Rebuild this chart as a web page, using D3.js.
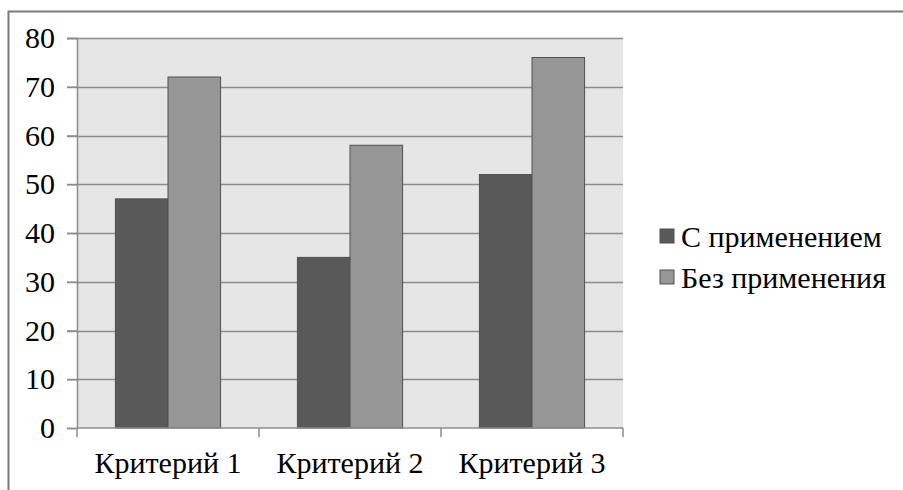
<!DOCTYPE html>
<html>
<head>
<meta charset="utf-8">
<script src="https://cdn.jsdelivr.net/npm/d3@7"></script>
<style>
  body { margin: 0; background: #fff; }
</style>
</head>
<body>
<div id="chart"></div>
<script>
// Data
const categories = ['Критерий 1', 'Критерий 2', 'Критерий 3'];
const seriesNames = ['С применением', 'Без применения'];
const withUse = [47, 35, 52];
const withoutUse = [72, 58, 76];
const yTicks = [0, 10, 20, 30, 40, 50, 60, 70, 80];
const colors = ['#595959', '#969696'];

// Dimensions
const width = 903;
const height = 490;
const plot = {left: 77, right: 623, top: 38, bottom: 428};
const font = 'Liberation Serif';
const fontSize = 30;

const svg = d3.select('#chart')
  .append('svg')
    .attr('width', width)
    .attr('height', height)

// Outer frame (top and left edges visible)
svg.append('path')
  .attr('d', `M8.5,${height} V11.5 H${width}`)
  .attr('fill', 'none')
  .attr('stroke', '#7a7a7a')
  .attr('stroke-width', 2)

// Scales
const scaleX = d3.scaleBand()
  .domain(categories)
  .range([plot.left, plot.right])
const scaleSeries = d3.scaleBand()
  .domain(seriesNames)
  .range([0, scaleX.bandwidth()])
  .paddingInner(0)
  .paddingOuter(0.73)
const scaleY = d3.scaleLinear()
  .domain([0, 80])
  .range([plot.bottom, plot.top])

// Plot background
svg.append('rect')
  .attr('x', plot.left)
  .attr('y', plot.top)
  .attr('width', plot.right - plot.left)
  .attr('height', plot.bottom - plot.top)
  .attr('fill', '#e6e6e6')

// Gridlines
svg.append('g')
  .selectAll('line')
  .data(yTicks.filter(d => d > 0))
  .join('line')
    .attr('x1', plot.left - 10)
    .attr('x2', plot.right)
    .attr('y1', d => Math.round(scaleY(d)) + 0.5)
    .attr('y2', d => Math.round(scaleY(d)) + 0.5)
    .attr('stroke', '#8c8c8c')
    .attr('stroke-width', 1.5)

// Bars
const rows = categories.map((c, i) => ({cat: c, values: [withUse[i], withoutUse[i]]}));
svg.append('g')
  .selectAll('g')
  .data(rows)
  .join('g')
    .attr('transform', d => `translate(${scaleX(d.cat)},0)`)
  .selectAll('rect')
  .data(d => d.values.map((v, j) => ({name: seriesNames[j], value: v, j})))
  .join('rect')
    .attr('x', d => scaleSeries(d.name))
    .attr('y', d => scaleY(d.value))
    .attr('width', scaleSeries.bandwidth())
    .attr('height', d => scaleY(0) - scaleY(d.value))
    .attr('fill', d => colors[d.j])
    .attr('stroke', '#505050')
    .attr('stroke-width', 1)

// Y axis
const axisY = d3.axisLeft(scaleY).tickValues(yTicks).tickSize(10).tickPadding(12);
svg.append('g')
  .attr('transform', `translate(${plot.left},0)`)
  .call(axisY)
  .call(g => g.select('.domain').attr('stroke', '#8c8c8c').attr('stroke-width', 1.5))
  .call(g => g.selectAll('.tick line').attr('stroke', '#8c8c8c').attr('stroke-width', 1.5))
  .call(g => g.selectAll('.tick text')
    .attr('font-family', font)
    .attr('font-size', fontSize)
    .attr('fill', '#000'))

// X axis
svg.append('g')
  .attr('transform', `translate(0,${plot.bottom})`)
  .call(g => g.append('line')
    .attr('x1', plot.left).attr('x2', plot.right)
    .attr('stroke', '#8c8c8c').attr('stroke-width', 1.5))
  .call(g => g.selectAll('.sep')
    .data(d3.range(categories.length + 1))
    .join('line')
      .attr('class', 'sep')
      .attr('x1', i => plot.left + i * scaleX.step())
      .attr('x2', i => plot.left + i * scaleX.step())
      .attr('y1', 0)
      .attr('y2', 9)
      .attr('stroke', '#8c8c8c')
      .attr('stroke-width', 1.5))
  .call(g => g.selectAll('text')
    .data(categories)
    .join('text')
      .attr('x', d => scaleX(d) + scaleX.bandwidth() / 2)
      .attr('y', 45)
      .attr('text-anchor', 'middle')
      .attr('font-family', font)
      .attr('font-size', fontSize)
      .text(d => d))

// Legend
const legend = svg.append('g').attr('transform', 'translate(660,0)');
const legendY = [236, 277];
seriesNames.forEach((name, i) => {
  legend.append('rect')
    .attr('x', 0)
    .attr('y', legendY[i] - 7)
    .attr('width', 14)
    .attr('height', 14)
    .attr('fill', colors[i])
    .attr('stroke', '#505050')
  legend.append('text')
    .attr('x', 21)
    .attr('y', legendY[i])
    .attr('dy', '0.35em')
    .attr('font-family', font)
    .attr('font-size', fontSize)
    .text(name)
});
</script>
</body>
</html>
